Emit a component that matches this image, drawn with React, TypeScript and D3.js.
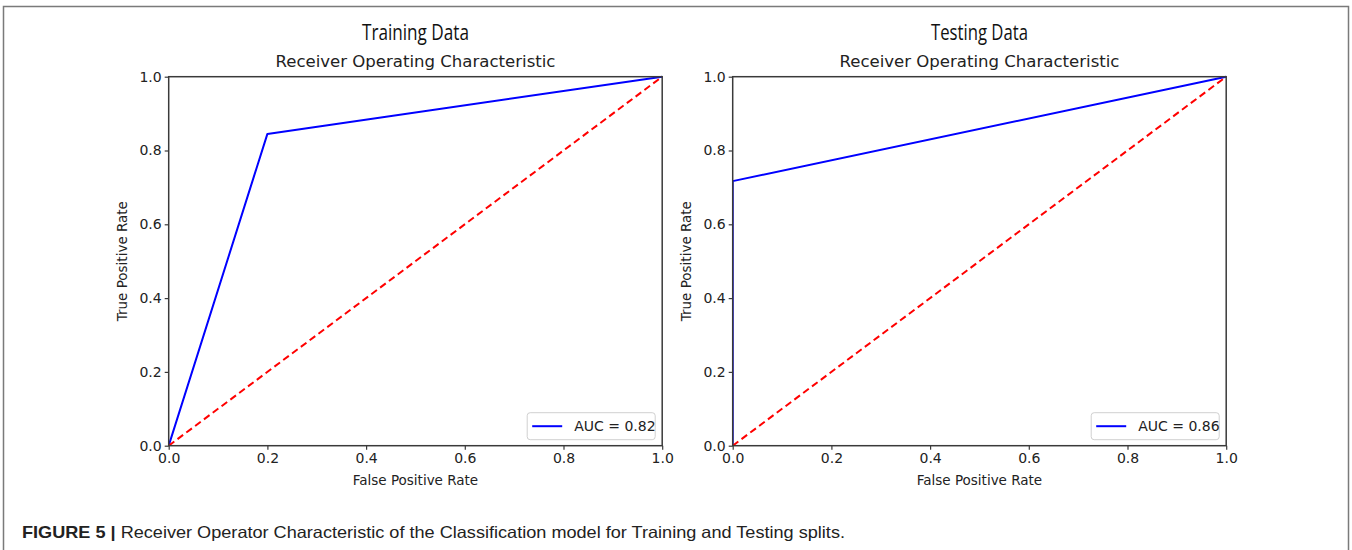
import React, { useEffect, useRef } from "react";
import * as d3 from "d3";

// ROC curve points
const trainFpr = [0, 0.2, 1];
const trainTpr = [0, 0.845, 1];
const testFpr = [0, 0, 1];
const testTpr = [0, 0.717, 1];
const chanceLine = [0, 1];

const panelTitles = ["Training Data", "Testing Data"];
const subTitle = "Receiver Operating Characteristic";
const aucLabels = ["AUC = 0.82", "AUC = 0.86"];
const tickValues = [0, 0.2, 0.4, 0.6, 0.8, 1.0];
const xLabel = "False Positive Rate";
const yLabel = "True Positive Rate";
const captionBold = "FIGURE 5 | ";
const captionText = "Receiver Operator Characteristic of the Classification model for Training and Testing splits.";

const W = 1352, H = 550;
const axFont = "'DejaVu Sans', sans-serif";

export default function App() {
  const ref = useRef<SVGSVGElement>(null);

  useEffect(() => {
    const svg = d3.select(ref.current);
    svg.selectAll("*").remove();

    // outer frame
    svg.append("rect")
      .attr("x", 3.5).attr("y", 6.5)
      .attr("width", 1345).attr("height", 560)
      .attr("fill", "none")
      .attr("stroke", "#7a7a7a")
      .attr("stroke-width", 1.5);

    const panels = [
      { left: 168.7, fpr: trainFpr, tpr: trainTpr },
      { left: 732.7, fpr: testFpr, tpr: testTpr },
    ];
    const top = 76.7, bottom = 445.7, pw = 493.5;

    panels.forEach((p, i) => {
      const x = d3.scaleLinear().domain([0, 1]).range([p.left, p.left + pw]);
      const y = d3.scaleLinear().domain([0, 1]).range([bottom, top]);
      const g = svg.append("g");
      const cx = p.left + pw / 2;

      // clip curves to the axes box, like matplotlib
      const clipId = "clip" + i;
      svg.append("clipPath").attr("id", clipId)
        .append("rect")
        .attr("x", p.left).attr("y", top - 2)
        .attr("width", pw + 2).attr("height", bottom - top + 2);

      // titles
      g.append("text")
        .attr("x", cx).attr("y", 40)
        .attr("text-anchor", "middle")
        .attr("font-family", "'Open Sans', sans-serif")
        .attr("font-size", 22)
        .attr("textLength", i === 0 ? 107 : 97)
        .attr("lengthAdjust", "spacingAndGlyphs")
        .attr("fill", "#111")
        .text(panelTitles[i]);

      g.append("text")
        .attr("x", cx).attr("y", 67)
        .attr("text-anchor", "middle")
        .attr("font-family", axFont)
        .attr("font-size", 16)
        .attr("textLength", 280)
        .attr("lengthAdjust", "spacingAndGlyphs")
        .attr("fill", "#222")
        .text(subTitle);

      const curves = g.append("g").attr("clip-path", `url(#${clipId})`);

      const line = d3.line<number>()
        .x(d => x(p.fpr[d]))
        .y(d => y(p.tpr[d]));

      curves.append("path")
        .attr("d", line(d3.range(p.fpr.length)))
        .attr("fill", "none")
        .attr("stroke", "#0000ff")
        .attr("stroke-width", 2)
        .attr("stroke-linejoin", "round");

      curves.append("path")
        .attr("d", d3.line<number>().x(d => x(d)).y(d => y(d))(chanceLine))
        .attr("fill", "none")
        .attr("stroke", "#ff0000")
        .attr("stroke-width", 2)
        .attr("stroke-dasharray", "7,4");

      // spines
      g.append("rect")
        .attr("x", p.left).attr("y", top)
        .attr("width", pw).attr("height", bottom - top)
        .attr("fill", "none")
        .attr("stroke", "#3a3a3a")
        .attr("stroke-width", 1.5);

      const xAxis = g.append("g")
        .attr("transform", `translate(0,${bottom})`)
        .call(d3.axisBottom(x).tickValues(tickValues).tickFormat(d3.format(".1f")).tickSize(4).tickPadding(3));
      const yAxis = g.append("g")
        .attr("transform", `translate(${p.left},0)`)
        .call(d3.axisLeft(y).tickValues(tickValues).tickFormat(d3.format(".1f")).tickSize(4).tickPadding(3));
      [xAxis, yAxis].forEach(a => {
        a.select(".domain").remove();
        a.selectAll("line").attr("stroke", "#3a3a3a").attr("stroke-width", 1.2);
        a.selectAll("text")
          .attr("font-family", axFont)
          .attr("font-size", 14)
          .attr("fill", "#222");
      });

      g.append("text")
        .attr("x", cx).attr("y", 485)
        .attr("text-anchor", "middle")
        .attr("font-family", axFont)
        .attr("font-size", 13.5)
        .attr("fill", "#222")
        .text(xLabel);

      g.append("text")
        .attr("transform", `translate(${p.left - 42},${(top + bottom) / 2}) rotate(-90)`)
        .attr("text-anchor", "middle")
        .attr("font-family", axFont)
        .attr("font-size", 13.5)
        .attr("fill", "#222")
        .text(yLabel);

      // legend
      const lw = 128, lh = 27;
      const lx = p.left + pw - 7 - lw, ly = bottom - 6 - lh;
      const leg = g.append("g").attr("transform", `translate(${lx},${ly})`);
      leg.append("rect")
        .attr("width", lw).attr("height", lh)
        .attr("rx", 3)
        .attr("fill", "#fff")
        .attr("fill-opacity", 0.8)
        .attr("stroke", "#d0d0d0");
      leg.append("line")
        .attr("x1", 5).attr("x2", 35)
        .attr("y1", lh / 2).attr("y2", lh / 2)
        .attr("stroke", "#0000ff")
        .attr("stroke-width", 2);
      leg.append("text")
        .attr("x", 47).attr("y", lh / 2 + 5)
        .attr("font-family", axFont)
        .attr("font-size", 14)
        .attr("fill", "#222")
        .text(aucLabels[i]);
    });

    // caption
    const cap = svg.append("text")
      .attr("x", 22).attr("y", 538)
      .attr("font-family", "'Liberation Sans', Arial, sans-serif")
      .attr("font-size", 16.5)
      .attr("fill", "#222")
      .attr("textLength", 823)
      .attr("lengthAdjust", "spacingAndGlyphs");
    cap.append("tspan").attr("font-weight", "bold").text(captionBold);
    cap.append("tspan").text(captionText);
  }, []);

  return (
    <svg ref={ref} width={W} height={H}
      style={{ position: "absolute", left: 0, top: 0, background: "#fff" }} />
  );
}
